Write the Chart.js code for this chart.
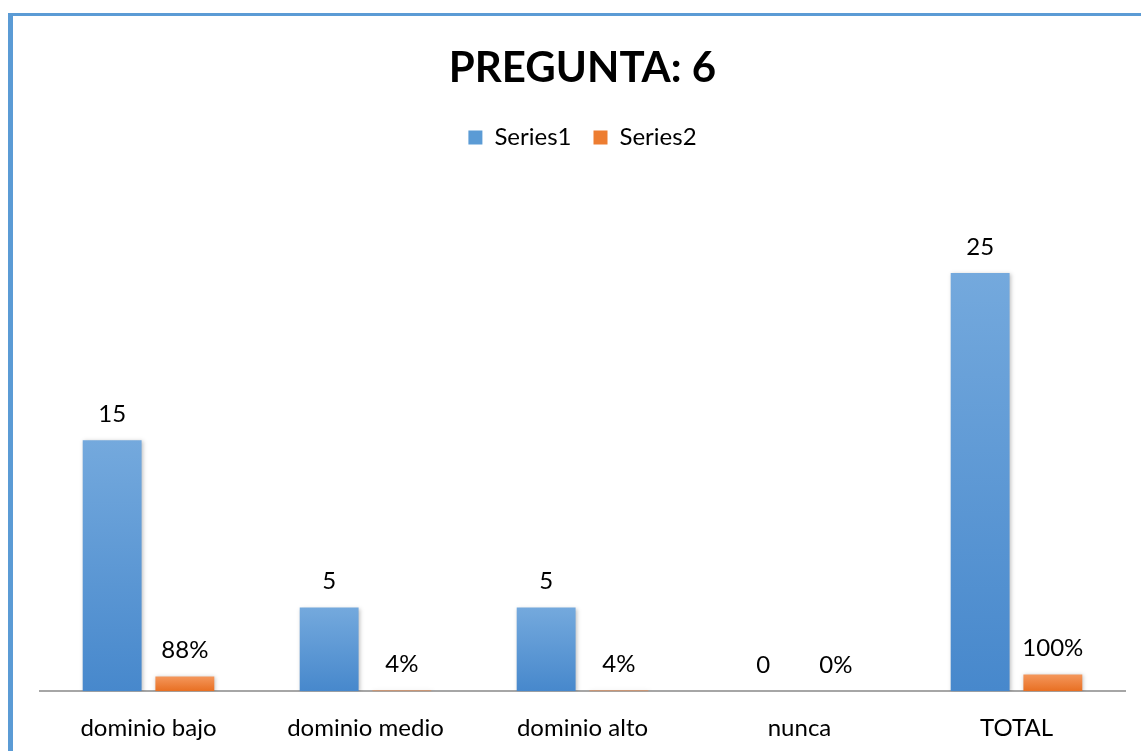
<!DOCTYPE html>
<html>
<head>
<meta charset="utf-8">
<script src="https://cdn.jsdelivr.net/npm/chart.js@4/dist/chart.umd.min.js"></script>
<style>
    html, body { margin: 0; padding: 0; background: #ffffff; overflow: hidden; }
    #wrap { position: relative; width: 1141px; height: 751px; }
    #frame {
        position: absolute; left: 8px; top: 13px; right: 0; bottom: 0;
        border-left: 5px solid #5b9bd5; border-top: 3px solid #5b9bd5;
        pointer-events: none;
    }
</style>
</head>
<body>
<div id="wrap">
    <canvas id="chart_pregunta" width="1141" height="751"></canvas>
    <div id="frame"></div>
</div>
<script>
var categories = ['dominio bajo', 'dominio medio', 'dominio alto', 'nunca', 'TOTAL'];
var series1 = [15, 5, 5, 0, 25];
var series2 = [0.88, 0.04, 0.04, 0, 1];
var series1Labels = ['15', '5', '5', '0', '25'];
var series2Labels = ['88%', '4%', '4%', '0%', '100%'];

var fontFamily = 'Lato, "Open Sans", sans-serif';

// vertical gradient for each bar, light on top, darker at the base
function barGradient(context, topColor, bottomColor) {
    var chart = context.chart;
    if (!chart.chartArea) return bottomColor;
    var yScale = chart.scales.y;
    var value = context.raw || 0;
    var top = yScale.getPixelForValue(value);
    var base = yScale.getPixelForValue(0);
    if (base - top < 1) top = base - 1;
    var g = chart.ctx.createLinearGradient(0, top, 0, base);
    g.addColorStop(0, topColor);
    g.addColorStop(1, bottomColor);
    return g;
}

// draws the value text above every bar
var valueLabels = {
    id: 'valueLabels',
    afterDatasetsDraw: function(chart) {
        var ctx = chart.ctx;
        ctx.save();
        ctx.font = '24px ' + fontFamily;
        ctx.fillStyle = '#000000';
        ctx.textAlign = 'center';
        ctx.textBaseline = 'middle';
        var texts = [series1Labels, series2Labels];
        chart.data.datasets.forEach(function(ds, i) {
            chart.getDatasetMeta(i).data.forEach(function(bar, j) {
                ctx.fillText(texts[i][j], bar.x, bar.y - 26);
            });
        });
        ctx.restore();
    }
};

var barShadow = {
    id: 'barShadow',
    beforeDatasetsDraw: function(chart) {
        var ctx = chart.ctx;
        ctx.save();
        ctx.shadowColor = 'rgba(0, 0, 0, 0.25)';
        ctx.shadowBlur = 4;
        ctx.shadowOffsetX = 1;
        ctx.shadowOffsetY = 1;
    },
    afterDatasetsDraw: function(chart) {
        chart.ctx.restore();
    }
};

var ctx = document.getElementById('chart_pregunta').getContext('2d');

var chart_pregunta = new Chart(ctx, {
    type: 'bar',
    data: {
        labels: categories,
        datasets: [{
            label: 'Series1',
            data: series1,
            backgroundColor: function(c) { return barGradient(c, '#74a9dd', '#4788cc'); },
            borderWidth: 0,
            categoryPercentage: 0.67,
            barPercentage: 0.81
        }, {
            label: 'Series2',
            data: series2,
            backgroundColor: function(c) { return barGradient(c, '#f4975c', '#e86f22'); },
            borderWidth: 0,
            categoryPercentage: 0.67,
            barPercentage: 0.81
        }]
    },
    options: {
        responsive: false,
        animation: false,
        layout: {
            padding: { left: 40, right: 16, top: 43, bottom: -15 }
        },
        plugins: {
            title: {
                display: true,
                text: 'PREGUNTA: 6',
                color: '#000000',
                font: { family: fontFamily, size: 42, weight: 'bold' },
                padding: { top: 0, bottom: 10 }
            },
            legend: {
                display: true,
                labels: {
                    color: '#000000',
                    font: { family: fontFamily, size: 24 },
                    boxWidth: 14,
                    boxHeight: 14,
                    padding: 22,
                    generateLabels: function(chart) {
                        var fills = ['#5b9bd5', '#ed7d31'];
                        return chart.data.datasets.map(function(ds, i) {
                            return {
                                text: ds.label,
                                fillStyle: fills[i],
                                strokeStyle: fills[i],
                                lineWidth: 0,
                                datasetIndex: i
                            };
                        });
                    }
                }
            },
            tooltip: { enabled: false }
        },
        scales: {
            x: {
                grid: { display: false, drawTicks: false },
                border: { display: true, color: '#a6a6a6', width: 2 },
                ticks: {
                    color: '#000000',
                    font: { family: fontFamily, size: 24 },
                    padding: 23
                }
            },
            y: {
                display: false,
                min: 0,
                max: 31.8
            }
        }
    },
    plugins: [barShadow, valueLabels]
});
</script>
</body>
</html>
